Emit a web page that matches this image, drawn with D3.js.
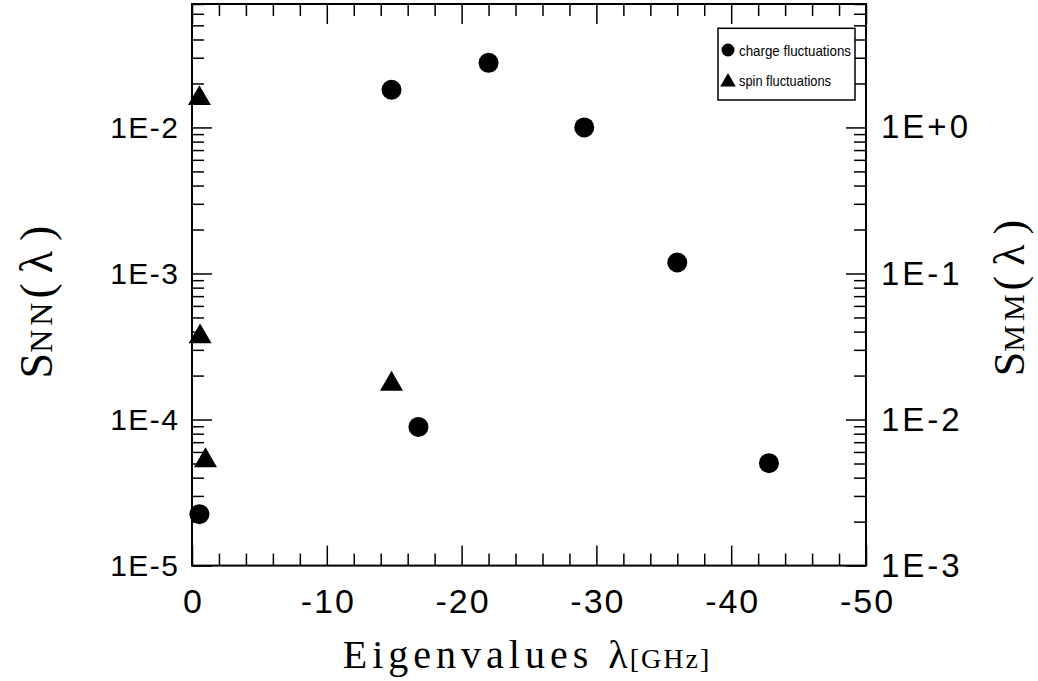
<!DOCTYPE html>
<html><head><meta charset="utf-8">
<script src="https://cdn.jsdelivr.net/npm/d3@7"></script>
<style>body{margin:0;background:#fff} svg{display:block}</style>
</head><body><svg id="c" width="1038" height="681"></svg>
<script>
// ---- data ----
const chargeX = [-0.55, -14.8, -16.8, -22.0, -29.1, -36.0, -42.8];
const chargeY = [2.25e-5, 1.81e-2, 8.9e-5, 2.77e-2, 1.0e-2, 1.19e-3, 5.03e-5];
const spinX = [-0.55, -0.6, -1.0, -14.8];
const spinY = [1.58e-2, 3.69e-4, 5.24e-5, 1.75e-4];
const xTicks = [0, -10, -20, -30, -40, -50];
const xTickLabels = ["0", "-10", "-20", "-30", "-40", "-50"];
const yLeftTicks = [1e-5, 1e-4, 1e-3, 1e-2];
const yLeftLabels = ["1E-5", "1E-4", "1E-3", "1E-2"];
const yRightTicks = [1e-3, 1e-2, 1e-1, 1];
const yRightLabels = ["1E-3", "1E-2", "1E-1", "1E+0"];
const legendLabels = ["charge fluctuations", "spin fluctuations"];

// ---- layout ----
const m = {l: 192, r: 866, t: 4, b: 565.6};
const x = d3.scaleLinear().domain([0, -50]).range([m.l, m.r]);
const yL = d3.scaleLog().domain([1e-5, 0.07]).range([m.b, m.t]);
const yR = d3.scaleLog().domain([1e-3, 7]).range([m.b, m.t]);
const svg = d3.select("#c");
const SANS = "'Liberation Sans', Arial, sans-serif";
const SERIF = "'Liberation Serif', 'Times New Roman', serif";

function minorLog(dom) {
  const out = [];
  for (let e = Math.floor(Math.log10(dom[0])); e <= Math.ceil(Math.log10(dom[1])); e++) {
    for (let k = 2; k <= 9; k++) {
      const v = k * Math.pow(10, e);
      if (v >= dom[0] && v <= dom[1]) out.push(v);
    }
  }
  return out;
}
const xMinor = d3.range(0, -50.001, -2).filter(v => v % 10 !== 0);

function style(g, sw) {
  g.select(".domain").remove();
  g.selectAll(".tick line").attr("stroke", "#000").attr("stroke-width", sw);
}

// bottom
svg.append("g").attr("transform", `translate(0,${m.b})`)
  .call(d3.axisBottom(x).tickValues(xMinor).tickSize(-12).tickFormat(""))
  .call(g => style(g, 1.5));
svg.append("g").attr("transform", `translate(0,${m.b})`)
  .call(d3.axisBottom(x).tickValues(xTicks).tickSize(-20).tickPadding(23)
    .tickFormat((d, i) => xTickLabels[i]))
  .call(g => { style(g, 1.5); g.selectAll("text").attr("font-family", SANS).attr("font-size", 34)
      .attr("letter-spacing", "2px").attr("dx", 1).attr("fill", "#000"); });
// top
svg.append("g").attr("transform", `translate(0,${m.t})`)
  .call(d3.axisTop(x).tickValues(xMinor).tickSize(-12).tickFormat(""))
  .call(g => style(g, 1.5));
svg.append("g").attr("transform", `translate(0,${m.t})`)
  .call(d3.axisTop(x).tickValues(xTicks).tickSize(-20).tickFormat(""))
  .call(g => style(g, 1.5));
// left
svg.append("g").attr("transform", `translate(${m.l},0)`)
  .call(d3.axisLeft(yL).tickValues(minorLog(yL.domain())).tickSize(-12).tickFormat(""))
  .call(g => style(g, 1.5));
svg.append("g").attr("transform", `translate(${m.l},0)`)
  .call(d3.axisLeft(yL).tickValues(yLeftTicks).tickSize(-20).tickPadding(12.5)
    .tickFormat((d, i) => yLeftLabels[i]))
  .call(g => { style(g, 1.5); g.selectAll("text").attr("font-family", SANS).attr("font-size", 30)
      .attr("letter-spacing", "1.5px").attr("fill", "#000"); });
// right
svg.append("g").attr("transform", `translate(${m.r},0)`)
  .call(d3.axisRight(yR).tickValues(minorLog(yR.domain())).tickSize(-12).tickFormat(""))
  .call(g => style(g, 1.5));
svg.append("g").attr("transform", `translate(${m.r},0)`)
  .call(d3.axisRight(yR).tickValues(yRightTicks).tickSize(-20).tickPadding(15)
    .tickFormat((d, i) => yRightLabels[i]))
  .call(g => { style(g, 1.5); g.selectAll("text").attr("font-family", SANS).attr("font-size", 33)
      .attr("letter-spacing", "3px").attr("fill", "#000"); });

// frame
svg.append("rect").attr("x", m.l).attr("y", m.t).attr("width", m.r - m.l).attr("height", m.b - m.t)
  .attr("fill", "none").attr("stroke", "#000").attr("stroke-width", 2);

// data
const charge = chargeX.map((v, i) => ({x: v, y: chargeY[i]}));
const spin = spinX.map((v, i) => ({x: v, y: spinY[i]}));
svg.append("g").selectAll("circle").data(charge).join("circle")
  .attr("cx", d => x(d.x)).attr("cy", d => yL(d.y)).attr("r", 10).attr("fill", "#000");
const tri = d3.symbol().type(d3.symbolTriangle).size(229);
svg.append("g").selectAll("path").data(spin).join("path")
  .attr("transform", d => `translate(${x(d.x)},${yL(d.y)})`).attr("d", tri).attr("fill", "#000");

// legend
const lg = svg.append("g");
lg.append("rect").attr("x", 718).attr("y", 28.3).attr("width", 137).attr("height", 71.7)
  .attr("fill", "#fff").attr("stroke", "#000").attr("stroke-width", 1.5);
lg.append("circle").attr("cx", 728).attr("cy", 50).attr("r", 6.5).attr("fill", "#000");
lg.append("path").attr("transform", "translate(728,82)")
  .attr("d", d3.symbol().type(d3.symbolTriangle).size(105)()).attr("fill", "#000");
const legW = [112, 92];
lg.selectAll("text").data(legendLabels).join("text")
  .attr("x", 739).attr("y", (d, i) => 55.5 + i * 30.5)
  .attr("font-family", SANS).attr("font-size", 15)
  .attr("textLength", (d, i) => legW[i]).attr("lengthAdjust", "spacingAndGlyphs")
  .text(d => d);

// axis titles
const xt = svg.append("text").attr("x", (m.l + m.r) / 2 - 2).attr("y", 668)
  .attr("text-anchor", "middle").attr("font-family", SERIF);
xt.append("tspan").attr("font-size", 40).attr("letter-spacing", "5px").text("Eigenvalues ");
xt.append("tspan").attr("font-size", 40).attr("letter-spacing", "2px").text("λ");
xt.append("tspan").attr("font-size", 28).attr("letter-spacing", "2px").text("[GHz]");

const lt = svg.append("text").attr("transform", "translate(52,297) rotate(-90)")
  .attr("text-anchor", "middle").attr("font-family", SERIF);
lt.append("tspan").attr("font-size", 46).text("S");
lt.append("tspan").attr("font-size", 32).attr("letter-spacing", "4px").text("NN");
lt.append("tspan").attr("font-size", 46).attr("letter-spacing", "10px").text("(λ)");

const rt = svg.append("text").attr("transform", "translate(1024,293) rotate(-90)")
  .attr("text-anchor", "middle").attr("font-family", SERIF);
rt.append("tspan").attr("font-size", 44).text("S");
rt.append("tspan").attr("font-size", 30).attr("letter-spacing", "4px").text("MM");
rt.append("tspan").attr("font-size", 44).attr("letter-spacing", "10px").text("(λ)");
</script>
</body></html>
